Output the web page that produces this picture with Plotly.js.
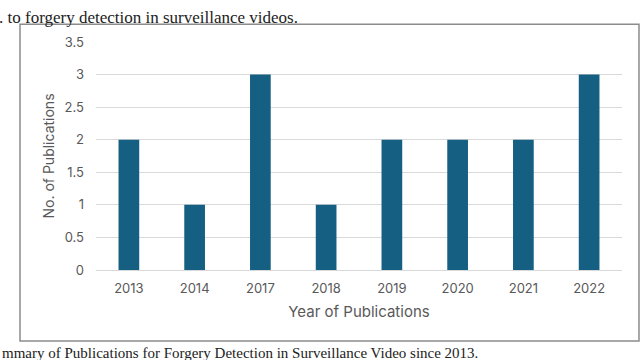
<!DOCTYPE html>
<html>
<head>
<meta charset="utf-8">
<script src="https://cdn.plot.ly/plotly-3.0.1.min.js"></script>
<style>
  html, body { margin: 0; padding: 0; background: #fff; }
  #plot { width: 640px; height: 360px; }
</style>
</head>
<body>
<div id="plot"></div>
<script>
// Данные графика
const years = ["2013", "2014", "2017", "2018", "2019", "2020", "2021", "2022"];
const publications = [2, 1, 3, 1, 2, 2, 2, 3];
const yTicks = [0, 0.5, 1, 1.5, 2, 2.5, 3, 3.5];

const textGrey = "#595959";
const barColor = "#156082";
const serif = "'Liberation Serif', 'DejaVu Serif', serif";

const traceBars = {
  type: "bar",
  x: years,
  y: publications,
  marker: { color: barColor },
  hoverinfo: "x+y",
};

const layout = {
  width: 640,
  height: 360,
  margin: { l: 96, r: 18, t: 42, b: 90 },
  paper_bgcolor: "#ffffff",
  plot_bgcolor: "#ffffff",
  showlegend: false,
  bargap: 0.685,
  font: { family: "Inter, 'Open Sans', sans-serif", color: textGrey },
  xaxis: {
    type: "category",
    tickfont: { size: 13, color: textGrey },
    ticklabelstandoff: 9,
    showline: false,
    title: {
      text: "Year of Publications",
      font: { size: 15, color: textGrey },
      standoff: 11,
    },
  },
  yaxis: {
    range: [0, 3.5],
    tickvals: yTicks,
    ticktext: yTicks.map(String),
    tickfont: { size: 13, color: textGrey },
    ticklabelstandoff: 11,
    gridcolor: "#d9d9d9",
    gridwidth: 1,
    zeroline: true,
    zerolinecolor: "#d9d9d9",
    zerolinewidth: 1,
    title: {
      text: "No. of Publications",
      font: { size: 14, color: textGrey },
      standoff: 6,
    },
  },
  shapes: [
    {
      // рамка вокруг диаграммы
      type: "rect",
      xref: "paper",
      yref: "paper",
      x0: -0.1445,
      x1: 1.0323,
      y0: -0.3114,
      y1: 1.0776,
      line: { color: "#8c8c8c", width: 1.5 },
    },
  ],
  annotations: [
    {
      // строка текста статьи над диаграммой
      xref: "paper",
      yref: "paper",
      x: 0.3878,
      y: 1.1096,
      xanchor: "right",
      yanchor: "middle",
      showarrow: false,
      text: ". to forgery detection in surveillance videos.",
      font: { family: serif, size: 17, color: "#222" },
    },
    {
      // подпись к рисунку
      xref: "paper",
      yref: "paper",
      x: 0.730,
      y: -0.364,
      xanchor: "right",
      yanchor: "middle",
      showarrow: false,
      text: "mmary of Publications for Forgery Detection in Surveillance Video since 2013.",
      font: { family: serif, size: 15, color: "#222" },
    },
  ],
};

Plotly.newPlot("plot", [traceBars], layout, { displayModeBar: false, staticPlot: true });
</script>
</body>
</html>
